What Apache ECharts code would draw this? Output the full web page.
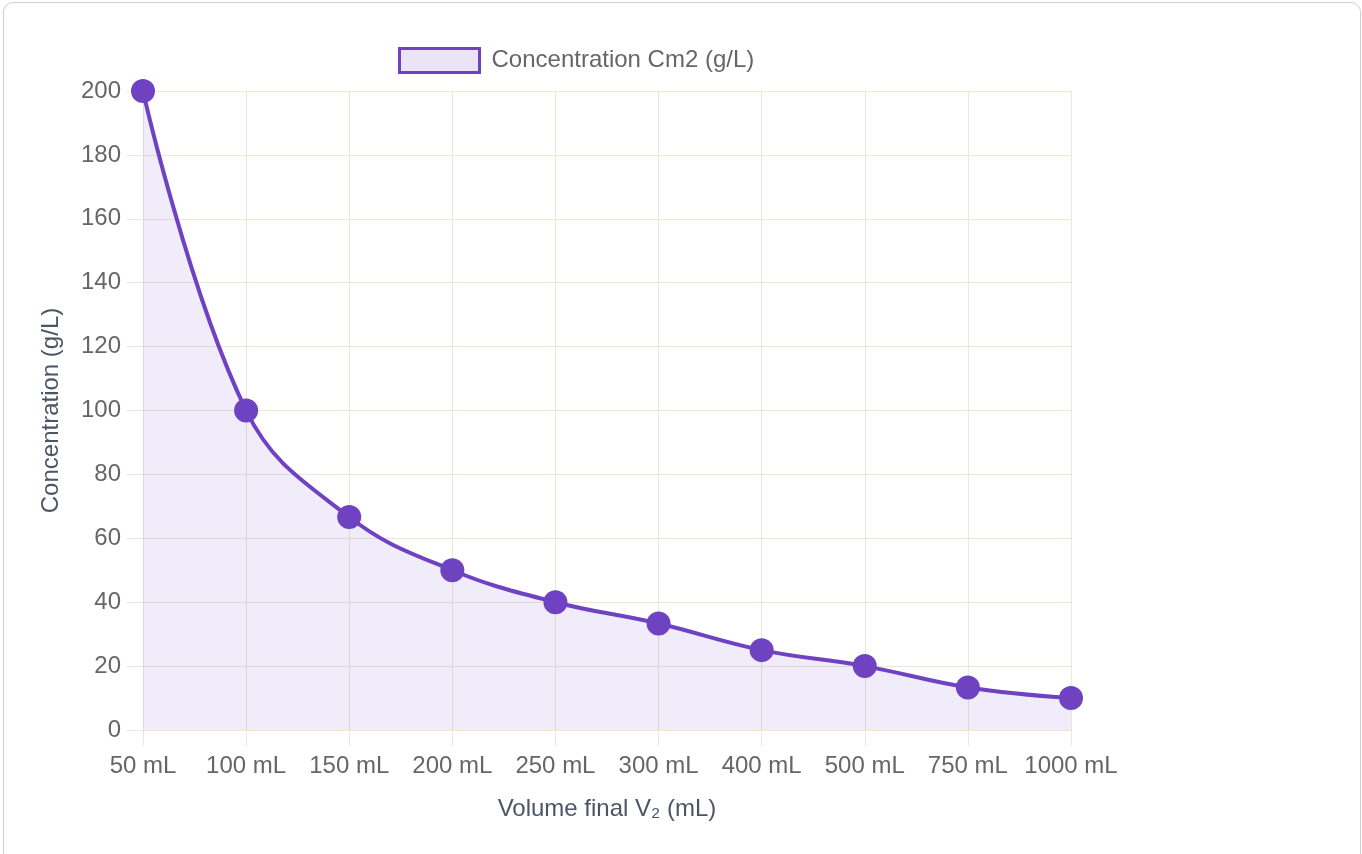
<!DOCTYPE html>
<html>
<head>
<meta charset="utf-8">
<script src="https://cdn.jsdelivr.net/npm/echarts@6/dist/echarts.min.js"></script>
<style>
html,body{margin:0;padding:0;background:#fff;width:1362px;height:854px;overflow:hidden;}
#card{position:absolute;left:3px;top:2px;width:1358px;height:880px;border:1px solid #cfcfcf;border-radius:10px;box-sizing:border-box;}
#chart{position:absolute;left:0;top:0;width:1362px;height:854px;}
</style>
</head>
<body>
<div id="card"></div>
<div id="chart"></div>
<script>
const categories = ['50 mL','100 mL','150 mL','200 mL','250 mL','300 mL','400 mL','500 mL','750 mL','1000 mL'];
const concentrationCm2 = [200, 100, 66.67, 50, 40, 33.33, 25, 20, 13.33, 10];
const seriesName = 'Concentration Cm2 (g/L)';
const xAxisTitle = 'Volume final V\u2082 (mL)';
const yAxisTitle = 'Concentration (g/L)';

const purple = '#6f42c1';
const fill = 'rgba(111,66,193,0.14)';
const gridColor = '#ebe8d4';
const font = '"Liberation Sans", Arial, Helvetica, sans-serif';

const chart = echarts.init(document.getElementById('chart'), null, {renderer:'canvas'});
chart.setOption({
  animation: false,
  textStyle: {fontFamily: font},
  grid: {left: 143, right: 291, top: 91, bottom: 124, containLabel: false},
  legend: {
    left: 393, top: 42,
    icon: 'rect',
    itemWidth: 80, itemHeight: 24,
    itemStyle: {color: fill, borderColor: purple, borderWidth: 3},
    textStyle: {color: '#666', fontSize: 24, fontFamily: font, padding: [0,0,0,7]},
    data: [seriesName]
  },
  xAxis: {
    type: 'category',
    data: categories,
    boundaryGap: false,
    axisLine: {show: true, lineStyle: {color: gridColor, width: 1}},
    axisTick: {show: true, length: 16, interval: 0, lineStyle: {color: gridColor}},
    splitLine: {show: true, interval: 0, lineStyle: {color: gridColor, width: 1}},
    axisLabel: {color: '#666', fontSize: 24, margin: 24, interval: 0, fontFamily: font},
    name: xAxisTitle,
    nameLocation: 'middle',
    nameGap: 67,
    nameTextStyle: {color: '#4b5563', fontSize: 24, fontFamily: font}
  },
  yAxis: {
    type: 'value',
    min: 0, max: 200, interval: 20,
    axisLine: {show: true, lineStyle: {color: gridColor, width: 1}},
    axisTick: {show: true, length: 16, lineStyle: {color: gridColor}},
    splitLine: {show: true, lineStyle: {color: gridColor, width: 1}},
    axisLabel: {color: '#666', fontSize: 24, margin: 22, fontFamily: font, padding: [3,0,0,0]},
    name: yAxisTitle,
    nameLocation: 'middle',
    nameGap: 80,
    nameTextStyle: {color: '#4b5563', fontSize: 24, fontFamily: font}
  },
  series: [{
    name: seriesName,
    type: 'line',
    data: concentrationCm2,
    smooth: 0.4,
    symbol: 'circle',
    symbolSize: 24,
    lineStyle: {color: purple, width: 4},
    itemStyle: {color: purple, borderColor: purple, borderWidth: 0},
    areaStyle: {color: fill, origin: 'start'},
    emphasis: {disabled: true}
  }]
});
</script>
</body>
</html>
